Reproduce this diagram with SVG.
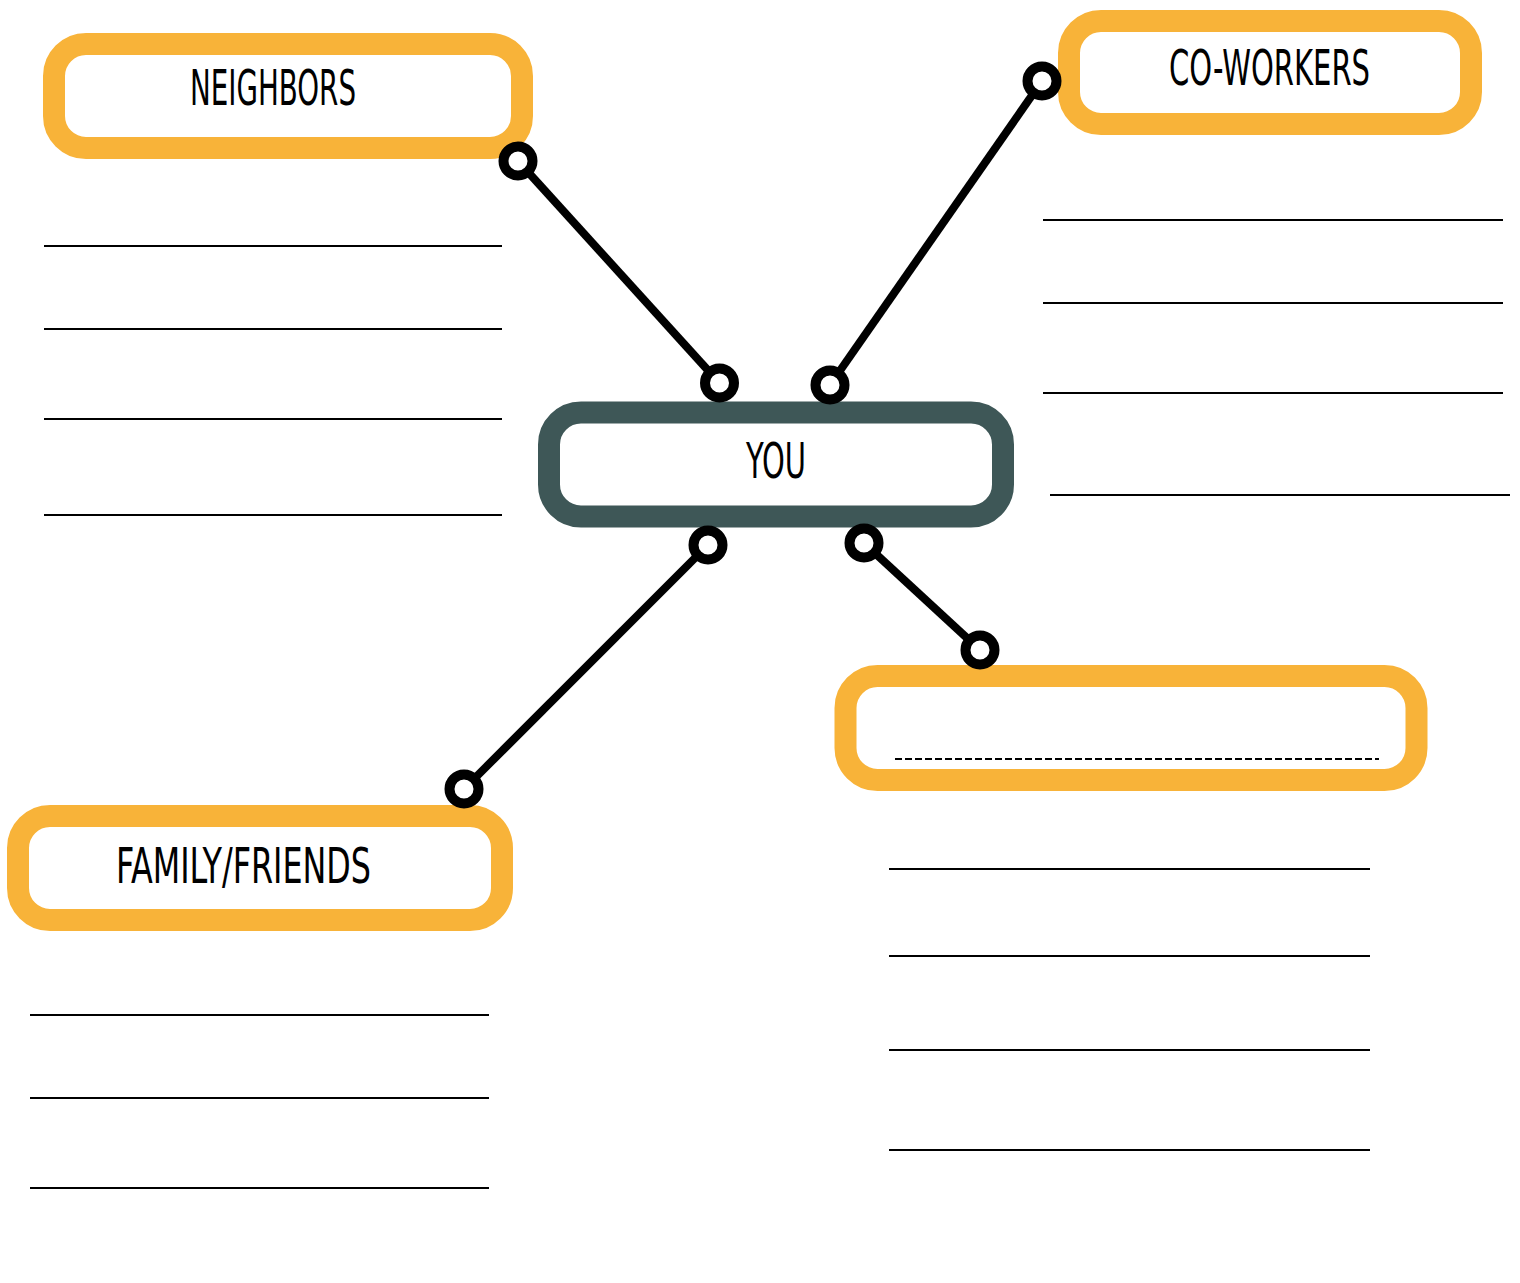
<svg xmlns="http://www.w3.org/2000/svg" width="1520" height="1283" viewBox="0 0 1520 1283">
<style>
.box{fill:#ffffff;stroke:#F8B339;stroke-width:22}
.you{fill:#ffffff;stroke:#3E5757;stroke-width:22}
.lbl{font-family:"Liberation Sans Narrow","DejaVu Sans Condensed","Liberation Sans",sans-serif;font-size:50px;fill:#000000}
.blank{stroke:#000000;stroke-width:2;fill:none}
.conn{stroke:#000000;stroke-width:8;fill:none}
.dot{fill:#ffffff;stroke:#000000;stroke-width:10}
</style>
<rect width="1520" height="1283" fill="#ffffff"/>
<g id="lines">
<line class="blank" x1="44" y1="246" x2="502" y2="246"/>
<line class="blank" x1="44" y1="329" x2="502" y2="329"/>
<line class="blank" x1="44" y1="419" x2="502" y2="419"/>
<line class="blank" x1="44" y1="515" x2="502" y2="515"/>
<line class="blank" x1="1043" y1="220" x2="1503" y2="220"/>
<line class="blank" x1="1043" y1="303" x2="1503" y2="303"/>
<line class="blank" x1="1043" y1="393" x2="1503" y2="393"/>
<line class="blank" x1="1050" y1="495" x2="1510" y2="495"/>
<line class="blank" x1="889" y1="869" x2="1370" y2="869"/>
<line class="blank" x1="889" y1="956" x2="1370" y2="956"/>
<line class="blank" x1="889" y1="1050" x2="1370" y2="1050"/>
<line class="blank" x1="889" y1="1150" x2="1370" y2="1150"/>
<line class="blank" x1="30" y1="1015" x2="489" y2="1015"/>
<line class="blank" x1="30" y1="1098" x2="489" y2="1098"/>
<line class="blank" x1="30" y1="1188" x2="489" y2="1188"/>
</g>
<g id="node-neighbors">
<rect class="box" x="54" y="44" width="468" height="104" rx="32"/>
<text class="lbl" x="190" y="105" textLength="166" lengthAdjust="spacingAndGlyphs">NEIGHBORS</text>
</g>
<g id="node-coworkers">
<rect class="box" x="1069" y="21" width="402" height="103" rx="32"/>
<text class="lbl" x="1169" y="85" textLength="201" lengthAdjust="spacingAndGlyphs">CO-WORKERS</text>
</g>
<g id="node-you">
<rect class="you" x="549" y="412.5" width="454" height="104" rx="32"/>
<text class="lbl" x="746" y="478" textLength="60" lengthAdjust="spacingAndGlyphs">YOU</text>
</g>
<g id="node-blank">
<rect class="box" x="845.5" y="676" width="571" height="104" rx="32"/>
<line x1="895" y1="759" x2="1379" y2="759" stroke="#000000" stroke-width="2" stroke-dasharray="7 3"/>
</g>
<g id="node-family">
<rect class="box" x="18" y="816" width="484" height="104" rx="32"/>
<text class="lbl" x="116" y="883" textLength="255" lengthAdjust="spacingAndGlyphs">FAMILY/FRIENDS</text>
</g>
<g id="connectors">
<line class="conn" x1="518" y1="161" x2="719.5" y2="383"/>
<circle class="dot" cx="518" cy="161" r="14.5"/>
<circle class="dot" cx="719.5" cy="383" r="14.5"/>
<line class="conn" x1="1042" y1="81" x2="830" y2="385"/>
<circle class="dot" cx="1042" cy="81" r="14.5"/>
<circle class="dot" cx="830" cy="385" r="14.5"/>
<line class="conn" x1="708" y1="545" x2="464" y2="789"/>
<circle class="dot" cx="708" cy="545" r="14.5"/>
<circle class="dot" cx="464" cy="789" r="14.5"/>
<line class="conn" x1="864" y1="543" x2="980" y2="650"/>
<circle class="dot" cx="864" cy="543" r="14.5"/>
<circle class="dot" cx="980" cy="650" r="14.5"/>
</g>
</svg>
